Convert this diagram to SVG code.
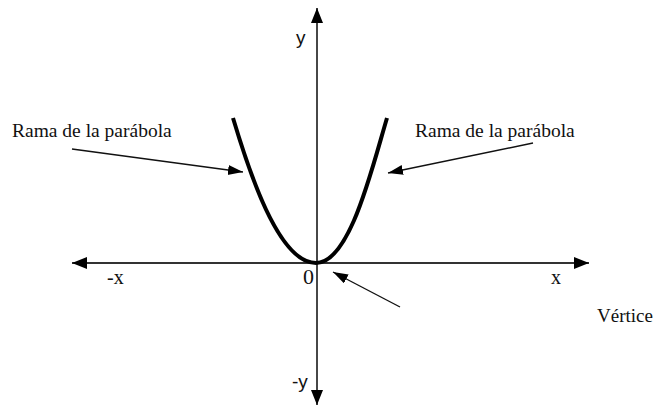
<svg xmlns="http://www.w3.org/2000/svg" width="654" height="406" viewBox="0 0 654 406">
<style>
.axis{stroke:#333;stroke-width:1.8;fill:none}
.ptr{stroke:#111;stroke-width:1.4;fill:none}
.serif{font-family:"Liberation Serif","Times New Roman",serif;fill:#111}
.sans{font-family:"Liberation Sans",Arial,sans-serif;fill:#111}
</style>
<defs>
<marker id="ah" markerUnits="userSpaceOnUse" markerWidth="16" markerHeight="12" refX="15" refY="6" orient="auto">
<path d="M0,0 L15,6 L0,12 Z" fill="#000"/>
</marker>
<marker id="ap" markerUnits="userSpaceOnUse" markerWidth="16" markerHeight="12" refX="15" refY="5" orient="auto">
<path d="M0,0 L15,5 L0,10 Z" fill="#000"/>
</marker>
</defs>
<g id="axes">
<line class="axis" x1="317" y1="263" x2="72" y2="263" marker-end="url(#ah)"/>
<line class="axis" x1="317" y1="263" x2="589" y2="263" marker-end="url(#ah)"/>
<line class="axis" x1="317" y1="263" x2="317" y2="8" marker-end="url(#ah)"/>
<line class="axis" x1="317" y1="263" x2="317" y2="405" marker-end="url(#ah)"/>
</g>
<g id="parabola">
<path d="M233,118 C248,168 278,263 316,263 C350,263 372,168 387,118" fill="none" stroke="#000" stroke-width="4"/>
</g>
<g id="connectors">
<line class="ptr" x1="72" y1="149" x2="243" y2="172" marker-end="url(#ap)"/>
<line class="ptr" x1="533" y1="143" x2="388" y2="173" marker-end="url(#ap)"/>
<line class="ptr" x1="400" y1="307" x2="333" y2="272" marker-end="url(#ap)"/>
</g>
<g id="labels">
<text class="serif" x="12" y="137" font-size="19.5">Rama de la parábola</text>
<text class="serif" x="415" y="137" font-size="19.5">Rama de la parábola</text>
<text class="serif" x="107" y="284" font-size="20">-x</text>
<text class="serif" x="303" y="284" font-size="22">0</text>
<text class="serif" x="551" y="284" font-size="20">x</text>
<text class="serif" x="597" y="322" font-size="19">Vértice</text>
<text class="sans" x="296" y="44" font-size="19">y</text>
<text class="sans" x="292" y="388" font-size="19">-y</text>
</g>
</svg>
